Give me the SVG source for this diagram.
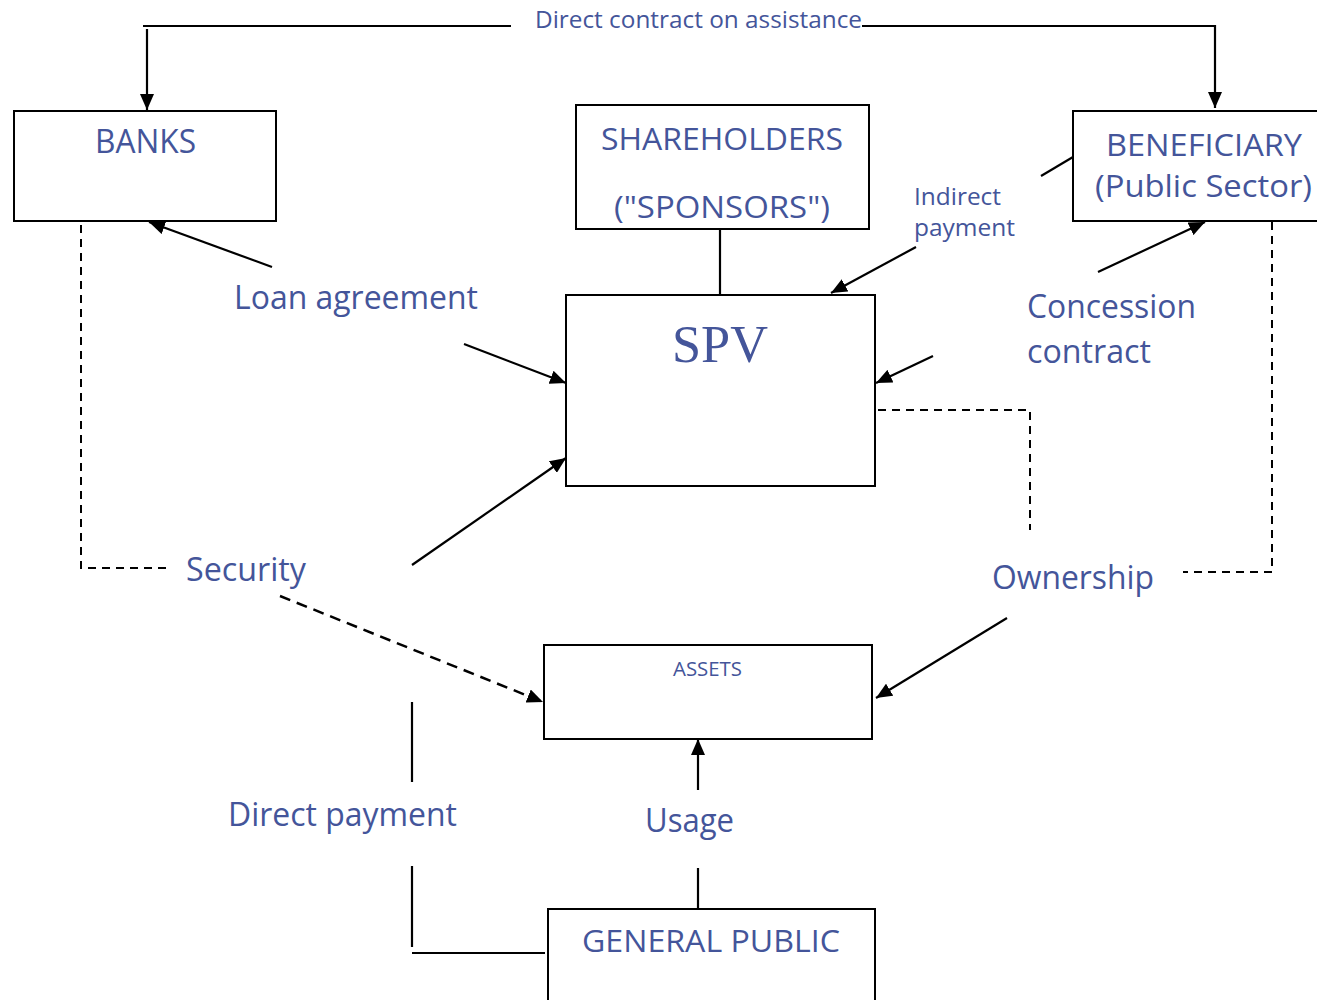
<svg xmlns="http://www.w3.org/2000/svg" width="1317" height="1000" viewBox="0 0 1317 1000">
  <style>
    .box { fill: #ffffff; stroke: #000000; stroke-width: 2; }
    .ln { fill: none; stroke: #000000; stroke-width: 2.2; }
    .dash { fill: none; stroke: #000000; stroke-width: 2; stroke-dasharray: 8 6; }
    .dash2 { fill: none; stroke: #000000; stroke-width: 2.5; stroke-dasharray: 11 7; }
    .t { font-family: "Open Sans", "Noto Sans", sans-serif; fill: #44559a; }
    .serif { font-family: "Liberation Serif", "Times New Roman", serif; fill: #44559a; }
  </style>
  <defs>
    <marker id="arr" viewBox="0 0 10 10" refX="10" refY="5" markerWidth="8" markerHeight="8" markerUnits="userSpaceOnUse" orient="auto">
      <path d="M0,0 L10,5 L0,10 z" fill="#000000"/>
    </marker>
    <marker id="arrBig" viewBox="0 0 10 10" refX="10" refY="5" markerWidth="16" markerHeight="14" markerUnits="userSpaceOnUse" orient="auto" preserveAspectRatio="none">
      <path d="M0,0 L10,5 L0,10 z" fill="#000000"/>
    </marker>
  </defs>

  <rect width="1317" height="1000" fill="#ffffff"/>

  <!-- connectors -->
  <g id="connectors">
    <!-- direct contract on assistance -->
    <path class="ln" d="M143,26 H511"/>
    <path class="ln" d="M862,26 H1215 V108" marker-end="url(#arrBig)"/>
    <path class="ln" d="M147,29 V110" marker-end="url(#arrBig)"/>
    <text class="t" x="535" y="28" font-size="24" textLength="327" lengthAdjust="spacingAndGlyphs">Direct contract on assistance</text>

    <!-- shareholders to SPV -->
    <path class="ln" d="M720,229 V295"/>

    <!-- loan agreement -->
    <path class="ln" d="M272,267 L149,222" marker-end="url(#arrBig)"/>
    <path class="ln" d="M464,344 L566,383" marker-end="url(#arrBig)"/>

    <!-- indirect payment -->
    <path class="ln" d="M1073,157 L1041,176"/>
    <path class="ln" d="M916,247 L831,293" marker-end="url(#arrBig)"/>

    <!-- concession contract -->
    <path class="ln" d="M1098,272 L1205,222" marker-end="url(#arrBig)"/>
    <path class="ln" d="M933,356 L876,383" marker-end="url(#arrBig)"/>

    <!-- ownership (dashed) -->
    <path class="dash" d="M878,410 H1030 V530"/>
    <path class="dash" d="M1272,222 V572 H1183"/>
    <path class="ln" d="M1007,618 L876,698" marker-end="url(#arrBig)"/>

    <!-- security -->
    <path class="dash" d="M81,225 V568 H168"/>
    <path class="dash2" d="M280,596 L543,702" marker-end="url(#arrBig)"/>
    <path class="ln" d="M412,565 L566,458" marker-end="url(#arrBig)"/>

    <!-- usage -->
    <path class="ln" d="M698,790 V739" marker-end="url(#arrBig)"/>
    <path class="ln" d="M698,868 V909"/>

    <!-- direct payment -->
    <path class="ln" d="M412,702 V782"/>
    <path class="ln" d="M412,866 V947"/>
    <path class="ln" d="M412,953 H545"/>
  </g>

  <!-- labels on connectors -->
  <g id="labels">
    <text class="t" x="234" y="309" font-size="33" textLength="244" lengthAdjust="spacingAndGlyphs">Loan agreement</text>
    <text class="t" x="914" y="205" font-size="24" textLength="87" lengthAdjust="spacingAndGlyphs">Indirect</text>
    <text class="t" x="914" y="236" font-size="24" textLength="101" lengthAdjust="spacingAndGlyphs">payment</text>
    <text class="t" x="1027" y="318" font-size="33" textLength="169" lengthAdjust="spacingAndGlyphs">Concession</text>
    <text class="t" x="1027" y="363" font-size="33" textLength="124" lengthAdjust="spacingAndGlyphs">contract</text>
    <text class="t" x="186" y="581" font-size="33" textLength="120" lengthAdjust="spacingAndGlyphs">Security</text>
    <text class="t" x="992" y="589" font-size="33" textLength="162" lengthAdjust="spacingAndGlyphs">Ownership</text>
    <text class="t" x="228" y="826" font-size="33" textLength="229" lengthAdjust="spacingAndGlyphs">Direct payment</text>
    <text class="t" x="645" y="832" font-size="33" textLength="89" lengthAdjust="spacingAndGlyphs">Usage</text>
  </g>

  <!-- nodes -->
  <g id="banks">
    <rect class="box" x="14" y="111" width="262" height="110"/>
    <text class="t" x="95" y="153" font-size="33" textLength="101" lengthAdjust="spacingAndGlyphs">BANKS</text>
  </g>

  <g id="shareholders">
    <rect class="box" x="576" y="105" width="293" height="124"/>
    <text class="t" x="601" y="150" font-size="31" textLength="242" lengthAdjust="spacingAndGlyphs">SHAREHOLDERS</text>
    <text class="t" x="614" y="218" font-size="31" textLength="216" lengthAdjust="spacingAndGlyphs">("SPONSORS")</text>
  </g>

  <g id="beneficiary">
    <rect class="box" x="1073" y="111" width="260" height="110"/>
    <text class="t" x="1106" y="156" font-size="31" textLength="196" lengthAdjust="spacingAndGlyphs">BENEFICIARY</text>
    <text class="t" x="1095" y="197" font-size="31" textLength="217" lengthAdjust="spacingAndGlyphs">(Public Sector)</text>
  </g>

  <g id="spv">
    <rect class="box" x="566" y="295" width="309" height="191"/>
    <text class="serif" x="672" y="362" font-size="52" textLength="96" lengthAdjust="spacingAndGlyphs">SPV</text>
  </g>

  <g id="assets">
    <rect class="box" x="544" y="645" width="328" height="94"/>
    <text class="t" x="673" y="676" font-size="20" textLength="69" lengthAdjust="spacingAndGlyphs">ASSETS</text>
  </g>

  <g id="general-public">
    <rect class="box" x="548" y="909" width="327" height="100"/>
    <text class="t" x="582" y="952" font-size="31" textLength="258" lengthAdjust="spacingAndGlyphs">GENERAL PUBLIC</text>
  </g>
</svg>
